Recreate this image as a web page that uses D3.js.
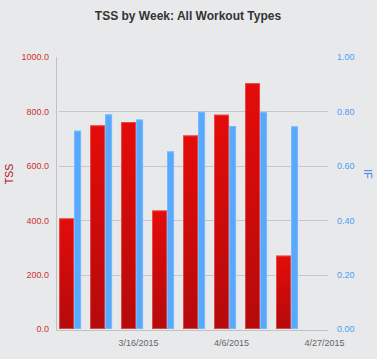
<!DOCTYPE html>
<html>
<head>
<meta charset="utf-8">
<script src="https://cdn.jsdelivr.net/npm/d3@7"></script>
<style>
  html, body { margin: 0; padding: 0; background: #e8e9eb; }
  svg { display: block; font-family: "Liberation Sans", Arial, sans-serif; }
</style>
</head>
<body>
<svg id="chart" width="377" height="359"></svg>
<script>
// ---- data ----
const weeks = ["2015-03-01","2015-03-08","2015-03-15","2015-03-22","2015-03-29","2015-04-05","2015-04-12","2015-04-19"];
const tssValues = [407, 749, 761, 436, 712, 788, 904, 270];
const ifValues = [0.729, 0.789, 0.770, 0.653, 0.798, 0.746, 0.798, 0.745];
const tssTicks = [0, 200, 400, 600, 800, 1000];
const ifTicks = [0, 0.2, 0.4, 0.6, 0.8, 1.0];
const dateTicks = ["2015-03-16","2015-04-06","2015-04-27"];
const xDomain = ["2015-02-25T17:00","2015-04-27T22:00"];

const parse = d3.utcParse("%Y-%m-%d");
const parseT = d3.utcParse("%Y-%m-%dT%H:%M");
const fmt = d3.utcFormat("%-m/%-d/%Y");

const svg = d3.select("#chart");
const plot = { left: 57, right: 328, top: 57, bottom: 329 };

const x = d3.scaleUtc().domain(xDomain.map(parseT)).range([plot.left, plot.right]);
const yL = d3.scaleLinear().domain([0, 1000]).range([plot.bottom, plot.top]);
const yR = d3.scaleLinear().domain([0, 1]).range([plot.bottom, plot.top]);

const defs = svg.append("defs");
const gr = defs.append("linearGradient").attr("id","redGrad").attr("x1",0).attr("y1",0).attr("x2",0).attr("y2",1);
gr.append("stop").attr("offset","0%").attr("stop-color","#e30c0a");
gr.append("stop").attr("offset","100%").attr("stop-color","#b50a0b");

// title
svg.append("text").attr("x", 188).attr("y", 20).attr("text-anchor","middle")
  .attr("font-size", 12).attr("font-weight","bold").attr("fill","#333")
  .text("TSS by Week: All Workout Types");

// gridlines
svg.append("g").selectAll("line").data(tssTicks.filter(d => d > 0 && d < 1000)).join("line")
  .attr("x1", plot.left + 2).attr("x2", plot.right)
  .attr("y1", d => Math.round(yL(d)) + 0.5).attr("y2", d => Math.round(yL(d)) + 0.5)
  .attr("stroke", "#c6c7c9").attr("stroke-width", 1);

// left axis labels
const yAxisL = d3.axisLeft(yL).tickValues(tssTicks).tickFormat(d3.format(".1f")).tickSize(0).tickPadding(8);
const gL = svg.append("g").attr("transform", `translate(${plot.left},0)`).call(yAxisL);
gL.select(".domain").remove();
gL.selectAll("text").attr("fill", "#cc3333").attr("font-size", 9).attr("font-family", "Liberation Sans, Arial, sans-serif");

// right axis labels
const yAxisR = d3.axisRight(yR).tickValues(ifTicks).tickFormat(d3.format(".2f")).tickSize(0).tickPadding(9);
const gR = svg.append("g").attr("transform", `translate(${plot.right},0)`).call(yAxisR);
gR.select(".domain").remove();
gR.selectAll("text").attr("fill", "#4a9ff5").attr("font-size", 9).attr("font-family", "Liberation Sans, Arial, sans-serif");

// axis titles
svg.append("text").attr("transform", "translate(13,174) rotate(-90)").attr("text-anchor","middle")
  .attr("font-size", 10.5).attr("fill", "#b3102a").text("TSS");
svg.append("text").attr("transform", "translate(364,174) rotate(90)").attr("text-anchor","middle")
  .attr("font-size", 10.5).attr("fill", "#3a84ee").text("IF");

// bars
const redW = 15, blueW = 7, groupShift = -1.5;
const groups = svg.append("g").selectAll("g").data(weeks.map((w, i) => ({ d: parse(w), tss: tssValues[i], ifv: ifValues[i] })))
  .join("g");
groups.append("rect")
  .attr("x", d => x(d.d) + groupShift - (redW + blueW) / 2)
  .attr("y", d => yL(d.tss))
  .attr("width", redW)
  .attr("height", d => yL(0) - yL(d.tss))
  .attr("fill", "url(#redGrad)");
groups.append("rect")
  .attr("x", d => x(d.d) + groupShift - (redW + blueW) / 2 + 0.5)
  .attr("y", d => yL(d.tss) + 0.5)
  .attr("width", redW - 1)
  .attr("height", d => yL(0) - yL(d.tss) - 1)
  .attr("fill", "none").attr("stroke", "rgba(255,140,140,0.45)").attr("stroke-width", 1);
groups.append("rect")
  .attr("x", d => x(d.d) + groupShift - (redW + blueW) / 2 + redW)
  .attr("y", d => yR(d.ifv))
  .attr("width", blueW)
  .attr("height", d => yR(0) - yR(d.ifv))
  .attr("fill", "#58a9fc");
groups.append("rect")
  .attr("x", d => x(d.d) + groupShift - (redW + blueW) / 2 + redW + 0.5)
  .attr("y", d => yR(d.ifv) + 0.5)
  .attr("width", blueW - 1)
  .attr("height", d => yR(0) - yR(d.ifv) - 1)
  .attr("fill", "none").attr("stroke", "rgba(140,195,255,0.6)").attr("stroke-width", 1);

// axis lines
svg.append("line").attr("x1", plot.left - 0.5).attr("x2", plot.left - 0.5).attr("y1", plot.top).attr("y2", plot.bottom + 2)
  .attr("stroke", "#c0c1c3").attr("stroke-width", 1);
svg.append("line").attr("x1", plot.left - 0.5).attr("x2", plot.right).attr("y1", plot.bottom + 1.5).attr("y2", plot.bottom + 1.5)
  .attr("stroke", "#c0c1c3").attr("stroke-width", 1);

// x axis labels
const xAxis = d3.axisBottom(x).tickValues(dateTicks.map(parse)).tickFormat(fmt).tickSize(0).tickPadding(9);
const gX = svg.append("g").attr("transform", `translate(0,${plot.bottom + 2})`).call(xAxis);
gX.select(".domain").remove();
gX.selectAll("text").attr("fill", "#666").attr("font-size", 9).attr("font-family", "Liberation Sans, Arial, sans-serif");
</script>
</body>
</html>
